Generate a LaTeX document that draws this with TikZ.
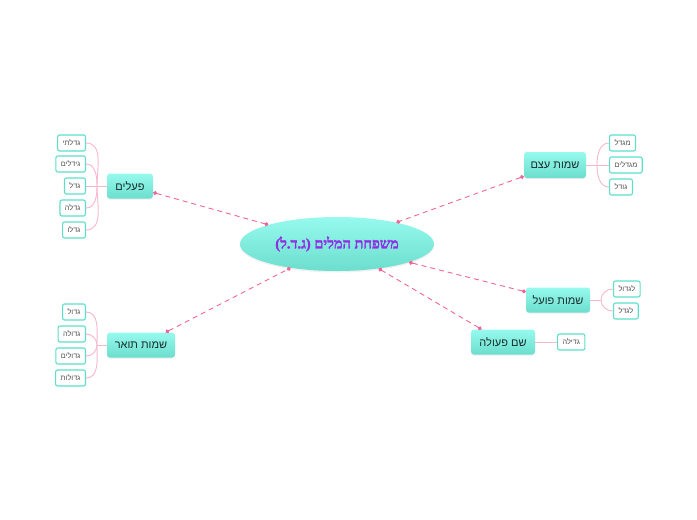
\documentclass[tikz,border=0pt]{standalone}
\usepackage{fontspec}
\usetikzlibrary{shapes.geometric,arrows.meta,shadows}
\TeXXeTstate=1
\newfontfamily\hebsans[Script=Hebrew]{Liberation Sans}
\newfontfamily\hebserifbold[Script=Hebrew,FakeBold=1.6]{Liberation Serif Bold}
\definecolor{cyantop}{RGB}{150,250,238}
\definecolor{cyanbot}{RGB}{108,222,205}
\definecolor{leafline}{RGB}{92,224,204}
\definecolor{connpink}{RGB}{240,100,150}
\definecolor{branchpink}{RGB}{248,182,206}
\definecolor{titlepurple}{RGB}{145,45,230}
\definecolor{topictext}{RGB}{25,45,45}
\definecolor{leaftext}{RGB}{80,80,80}
\tikzset{
  x=1pt,y=1pt,
  rootnode/.style={ellipse, minimum width=194, minimum height=54, inner sep=0pt,
    top color=cyantop, bottom color=cyanbot, draw=none,
    drop shadow={opacity=0.12, shadow xshift=0pt, shadow yshift=-1.5pt},
    text=titlepurple, font=\hebserifbold\fontsize{14.5}{16}\selectfont},
  topicbox/.style={rectangle, rounded corners=3pt, minimum height=25, inner sep=0pt,
    top color=cyantop, bottom color=cyanbot, draw=none,
    drop shadow={opacity=0.15, shadow xshift=0pt, shadow yshift=-1.2pt},
    text=topictext, font=\hebsans\fontsize{11}{13}\selectfont},
  leafbox/.style={rectangle, rounded corners=2pt, minimum height=16, inner xsep=5pt, inner ysep=0pt,
    draw=leafline, line width=1.1pt, fill=white,
    text=leaftext, font=\hebsans\fontsize{7.3}{9}\selectfont},
  conn/.style={draw=connpink, line width=0.9pt, dash pattern=on 5pt off 4pt,
    {Circle[length=4pt]}-{Circle[length=4pt]}},
  branch/.style={draw=branchpink, line width=0.9pt},
}
\begin{document}
\begin{tikzpicture}
\useasboundingbox (0,0) rectangle (697,-520);

% root
\node[rootnode] (root) at (337,-244) {\beginR משפחת המלים (ג.ד.ל)\endR};

% topics
\node[topicbox, minimum width=46] (pealim) at (130,-186) {\beginR פעלים\endR};
\node[topicbox, minimum width=68] (toar) at (141,-345) {\beginR שמות תואר\endR};
\node[topicbox, minimum width=62, minimum height=26] (etsem) at (555,-165) {\beginR שמות עצם\endR};
\node[topicbox, minimum width=64] (poal) at (558,-300) {\beginR שמות פועל\endR};
\node[topicbox, minimum width=64] (peula) at (503,-342) {\beginR שם פעולה\endR};

% connectors to root
\draw[conn] (pealim) -- (root);
\draw[conn] (etsem) -- (root);
\draw[conn] (poal) -- (root);
\draw[conn] (peula) -- (root);
\draw[conn] (toar) -- (root);

% junction coordinates
\coordinate (jp) at (97,-186);
\coordinate (jt) at (97,-345);
\coordinate (je) at (597,-165);
\coordinate (jo) at (601,-300);

% leaves of pealim
\node[leafbox, anchor=east] (p1) at (86,-143) {\beginR גדלתי\endR};
\node[leafbox, anchor=east] (p2) at (86,-164) {\beginR גידלים\endR};
\node[leafbox, anchor=east] (p3) at (86,-186) {\beginR גדל\endR};
\node[leafbox, anchor=east] (p4) at (86,-208) {\beginR גדלה\endR};
\node[leafbox, anchor=east] (p5) at (86,-230) {\beginR גדלו\endR};

% leaves of toar
\node[leafbox, anchor=east] (t1) at (86,-312) {\beginR גדול\endR};
\node[leafbox, anchor=east] (t2) at (86,-334) {\beginR גדולה\endR};
\node[leafbox, anchor=east] (t3) at (86,-356) {\beginR גדולים\endR};
\node[leafbox, anchor=east] (t4) at (86,-378) {\beginR גדולות\endR};

% leaves of etsem
\node[leafbox, anchor=west] (e1) at (609,-143) {\beginR מגדל\endR};
\node[leafbox, anchor=west] (e2) at (609,-165) {\beginR מגדלים\endR};
\node[leafbox, anchor=west] (e3) at (609,-187) {\beginR גודל\endR};

% leaves of poal
\node[leafbox, anchor=west] (o1) at (613,-289) {\beginR לגדול\endR};
\node[leafbox, anchor=west] (o2) at (613,-311) {\beginR לגדל\endR};

% leaf of peula
\node[leafbox, anchor=west] (u1) at (557,-342) {\beginR גדילה\endR};

% branches
\draw[branch] (pealim.west) -- (jp);
\draw[branch] (jp) to[out=90,in=0] (p1.east);
\draw[branch] (jp) to[out=90,in=0] (p2.east);
\draw[branch] (jp) -- (p3.east);
\draw[branch] (jp) to[out=-90,in=0] (p4.east);
\draw[branch] (jp) to[out=-90,in=0] (p5.east);

\draw[branch] (toar.west) -- (jt);
\draw[branch] (jt) to[out=90,in=0] (t1.east);
\draw[branch] (jt) to[out=90,in=0] (t2.east);
\draw[branch] (jt) to[out=-90,in=0] (t3.east);
\draw[branch] (jt) to[out=-90,in=0] (t4.east);

\draw[branch] (etsem.east) -- (je);
\draw[branch] (je) to[out=90,in=180] (e1.west);
\draw[branch] (je) -- (e2.west);
\draw[branch] (je) to[out=-90,in=180] (e3.west);

\draw[branch] (poal.east) -- (jo);
\draw[branch] (jo) to[out=90,in=180] (o1.west);
\draw[branch] (jo) to[out=-90,in=180] (o2.west);

\draw[branch] (peula.east) -- (u1.west);
\end{tikzpicture}
\end{document}
